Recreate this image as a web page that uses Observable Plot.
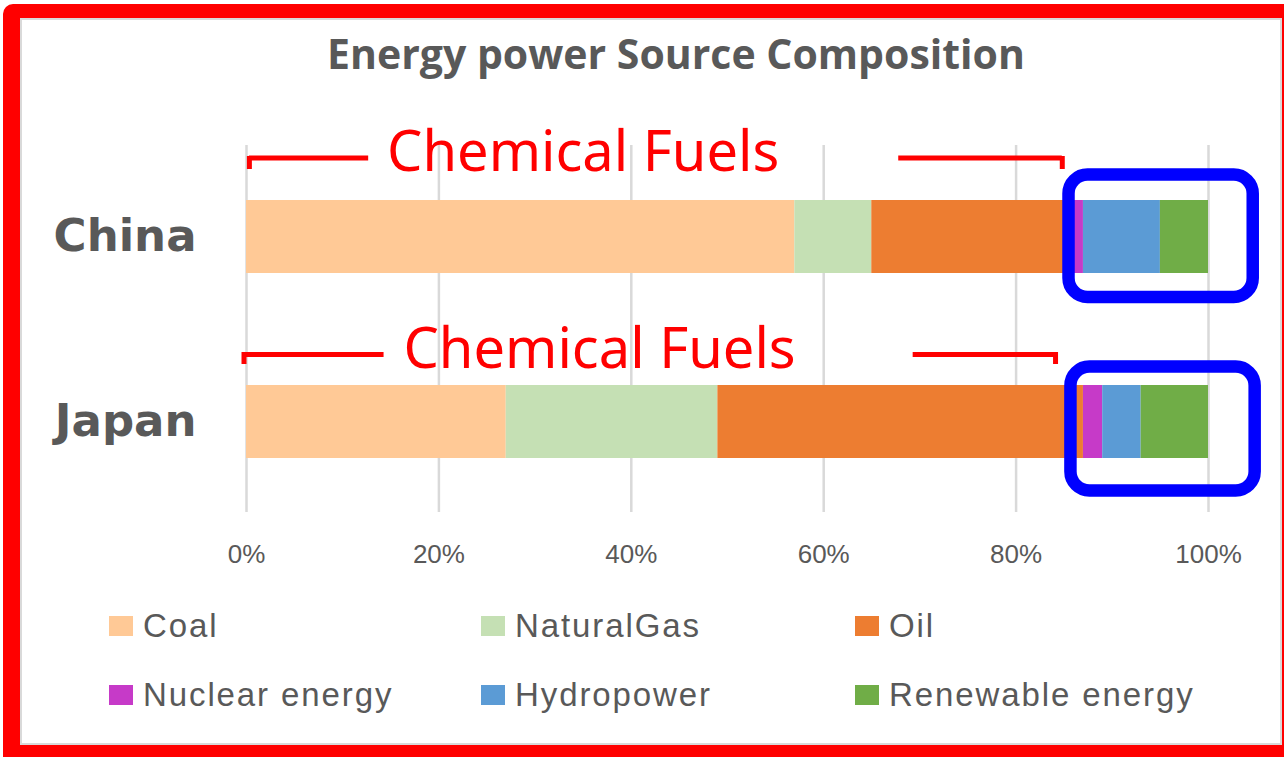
<!DOCTYPE html>
<html>
<head>
<meta charset="utf-8">
<script src="https://cdn.jsdelivr.net/npm/d3@7"></script>
<script src="https://cdn.jsdelivr.net/npm/@observablehq/plot@0.6"></script>
<style>
  html, body { margin: 0; padding: 0; background: #fff; }
  #page { position: relative; width: 1284px; height: 757px; overflow: hidden; background: #fff; }
  #frame { position: absolute; left: 3px; top: 4px; width: 1320px; height: 800px; background: #ff0000; border-radius: 10px; }
  #panel { position: absolute; left: 20px; top: 18px; width: 1258px; height: 723px; background: #fff; border: 2px solid #d9d9d9; }
  #title { position: absolute; left: 0; width: 1352px; top: 33px; text-align: center;
           font: 700 41px/41px "Open Sans", sans-serif; color: #595959; white-space: nowrap; }
  #chart { position: absolute; left: 0; top: 100px; }
  .lg { position: absolute; height: 34px; display: flex; align-items: center; white-space: nowrap;
        font: 33px/34px "Liberation Sans", sans-serif; letter-spacing: 1.9px; color: #595959; }
  .sw { width: 24px; height: 20px; margin-right: 10px; flex: none; }
</style>
</head>
<body>
<div id="page">
  <div id="frame"></div>
  <div id="panel"></div>
  <div id="title">Energy power Source Composition</div>
  <div id="chart"></div>
  <div id="legend"></div>
</div>
<script>
// ---- data ----
const countries = ["China", "Japan"];
const sources = ["Coal", "NaturalGas", "Oil", "Nuclear energy", "Hydropower", "Renewable energy"];
const chinaShares = [57, 8, 21, 1, 8, 5];
const japanShares = [27, 22, 38, 2, 4, 7];
const sourceColors = ["#FFC996", "#C5E0B4", "#ED7D31", "#C63AC8", "#5B9BD5", "#70AD47"];
const xTicks = [0, 20, 40, 60, 80, 100];

// annotations (x in percent units)
const annotationText = "Chemical Fuels";
const labelX = [35.0, 36.7];
const bracketLeftX = [[0.3, 12.7], [-0.26, 14.3]];
const bracketRightX = [[67.8, 84.8], [69.3, 84.1]];
const boxX = [[85.5, 104.65], [85.7, 104.85]];

// ---- table ----
const shares = [chinaShares, japanShares];
const table = countries.flatMap((c, i) => sources.map((s, j) => ({country: c, source: s, value: shares[i][j]})));

// per-country pixel offsets for annotations (styling)
const offs = [
  {label: -83.5, line: -79, tickDy: -44, tickInset: 60, boxTop: -25.5, boxBottom: -24},
  {label: -72, line: -67.5, tickDy: -33, tickInset: 61, boxTop: -18.5, boxBottom: -32.5}
];

const red = "#ff0000", blue = "#0000ff";
const annMarks = countries.flatMap((c, i) => {
  const o = offs[i];
  const segs = [
    {country: c, x1: bracketLeftX[i][0], x2: bracketLeftX[i][1]},
    {country: c, x1: bracketRightX[i][0], x2: bracketRightX[i][1]}
  ];
  const ticks = [{country: c, x: bracketLeftX[i][0]}, {country: c, x: bracketRightX[i][1]}];
  return [
    Plot.ruleY(segs, {y: "country", x1: "x1", x2: "x2", dy: o.line, stroke: red, strokeWidth: 5}),
    Plot.tickX(ticks, {x: "x", y: "country", dy: o.tickDy, insetBottom: o.tickInset, stroke: red, strokeWidth: 5}),
    Plot.text([{country: c, x: labelX[i]}], {x: "x", y: "country", text: () => annotationText, dy: o.label,
      fill: red, fontSize: 56, fontFamily: "Noto Sans", textAnchor: "middle"}),
    Plot.barX([{country: c, x1: boxX[i][0], x2: boxX[i][1]}], {x1: "x1", x2: "x2", y: "country",
      insetTop: o.boxTop, insetBottom: o.boxBottom, fill: "none", stroke: blue, strokeWidth: 12.5, rx: 19})
  ];
});

const chart = Plot.plot({
  width: 1284,
  height: 489,
  marginLeft: 246,
  marginRight: 76,
  marginTop: 45,
  marginBottom: 77,
  style: {background: "transparent", overflow: "visible"},
  x: {domain: [0, 100]},
  y: {domain: countries, paddingInner: 0.6065, paddingOuter: 0.292},
  color: {domain: sources, range: sourceColors},
  marks: [
    Plot.gridX({ticks: xTicks, stroke: "#d9d9d9", strokeOpacity: 1, strokeWidth: 2.5}),
    Plot.barX(table, Plot.stackX({x: "value", y: "country", fill: "source", order: null})),
    Plot.axisX({ticks: xTicks, tickFormat: d => d + "%", tickSize: 0, tickPadding: 32, label: null,
      fontSize: 26, fontFamily: "Liberation Sans", color: "#595959"}),
    Plot.axisY({tickSize: 0, tickPadding: 50, label: null, fontSize: 45, fontWeight: "bold",
      fontFamily: "DejaVu Sans", color: "#595959"}),
    ...annMarks
  ]
});
document.getElementById("chart").appendChild(chart);

// ---- legend ----
const legendCols = [109, 481, 855];
const legendRowTops = [609, 678];
const legend = document.getElementById("legend");
sources.forEach((s, k) => {
  const item = document.createElement("div");
  item.className = "lg";
  item.style.left = legendCols[k % 3] + "px";
  item.style.top = legendRowTops[Math.floor(k / 3)] + "px";
  const sw = document.createElement("span");
  sw.className = "sw";
  sw.style.background = sourceColors[k];
  const tx = document.createElement("span");
  tx.textContent = s;
  item.appendChild(sw);
  item.appendChild(tx);
  legend.appendChild(item);
});
</script>
</body>
</html>
